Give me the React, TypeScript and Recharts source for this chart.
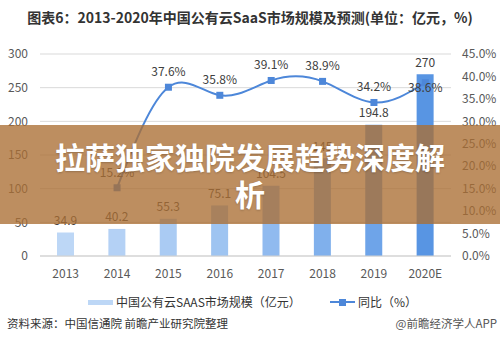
import React from 'react';
import { ComposedChart, Bar, Line, XAxis, YAxis, CartesianGrid, Cell, LabelList } from 'recharts';

const years = ['2013', '2014', '2015', '2016', '2017', '2018', '2019', '2020E'];
const marketSize = [34.9, 40.2, 55.3, 75.1, 104.5, 145, 194.8, 270];
const growth: (number | null)[] = [null, 15.2, 37.6, 35.8, 39.1, 38.9, 34.2, 38.6];
const barColors = ['#bdd7f6', '#b4d1f5', '#aacbf3', '#9ec4f1', '#90baef', '#80b0ec', '#6ea4e9', '#5895e3'];
const leftTicks = [0, 50, 100, 150, 200, 250, 300];
const rightTicks = [0, 5, 10, 15, 20, 25, 30, 35, 40, 45];

const title = '图表6：2013-2020年中国公有云SaaS市场规模及预测(单位：亿元，%)';
const barLegend = '中国公有云SAAS市场规模（亿元）';
const lineLegend = '同比（%）';
const source = '资料来源：中国信通院 前瞻产业研究院整理';
const brand = '@前瞻经济学人APP';
const banner = '拉萨独家独院发展趋势深度解析';

const data = years.map((y, i) => ({ year: y, size: marketSize[i], growth: growth[i] }));

const FONT = '"Noto Sans CJK SC", "Noto Sans", sans-serif';
const LINE_COLOR = '#4d87d9';

const SquareDot = (props: any) => {
  const { cx, cy, value, index } = props;
  if (cx == null || cy == null || value == null) return <g key={`d${index}`} />;
  return <rect key={`d${index}`} x={cx - 3.5} y={cy - 3.5} width={7} height={7} fill={LINE_COLOR} />;
};

const LineLabel = (props: any) => {
  const { x, y, value, index } = props;
  if (value == null || x == null || y == null) return <g />;
  const dy = index === 7 ? 4 : -16.5;
  return (
    <text x={x} y={y + dy} textAnchor="middle" dominantBaseline="central" fontSize={12} fill="#404040" fontFamily={FONT}>
      {Number(value).toFixed(1)}%
    </text>
  );
};

const BarLabel = (props: any) => {
  const { x, y, width, value } = props;
  return (
    <text x={x + width / 2} y={y - 13} textAnchor="middle" dominantBaseline="central" fontSize={12} fill="#404040" fontFamily={FONT}>
      {value}
    </text>
  );
};

export default function App() {
  return (
    <div style={{ position: 'absolute', left: 0, top: 0, width: 500, height: 350, background: '#fff', overflow: 'hidden', fontFamily: FONT }}>
      <div style={{ position: 'absolute', left: 0, top: 7, width: 500, textAlign: 'center', fontSize: 14, fontWeight: 700, color: '#333', lineHeight: '20px', whiteSpace: 'nowrap' }}>
        {title}
      </div>
      <div style={{ position: 'absolute', left: 0, top: 0 }}>
        <ComposedChart width={500} height={350} data={data} margin={{ top: 54, right: 0, bottom: 64, left: 0 }}>
          <CartesianGrid yAxisId="left" vertical={false} stroke="#d9d9d9" />
          <XAxis
            dataKey="year"
            height={30}
            tickLine={false}
            axisLine={{ stroke: '#d0d0d0' }}
            tickMargin={7}
            tick={{ fontSize: 12, fill: '#595959', fontFamily: FONT }}
          />
          <YAxis
            yAxisId="left"
            width={40}
            domain={[0, 300]}
            ticks={leftTicks}
            tickLine={false}
            axisLine={false}
            tickMargin={6}
            tick={{ fontSize: 12, fill: '#595959', fontFamily: FONT }}
          />
          <YAxis
            yAxisId="right"
            orientation="right"
            width={49}
            domain={[0, 45]}
            ticks={rightTicks}
            tickLine={false}
            axisLine={false}
            tickMargin={5}
            tickFormatter={(v: number) => v.toFixed(1) + '%'}
            tick={{ fontSize: 12, fill: '#595959', fontFamily: FONT }}
          />
          <Bar yAxisId="left" dataKey="size" barSize={17} isAnimationActive={false}>
            {data.map((d, i) => (
              <Cell key={d.year} fill={barColors[i]} />
            ))}
            <LabelList dataKey="size" content={BarLabel} />
          </Bar>
          <Line
            yAxisId="right"
            type="natural"
            dataKey="growth"
            stroke={LINE_COLOR}
            strokeWidth={2}
            dot={SquareDot}
            activeDot={false}
            connectNulls={false}
            isAnimationActive={false}
          >
            <LabelList dataKey="growth" content={LineLabel} />
          </Line>
        </ComposedChart>
      </div>
      {/* legend */}
      <div style={{ position: 'absolute', left: 88, top: 300, width: 25, height: 5, background: '#bdd7f6' }} />
      <div style={{ position: 'absolute', left: 116, top: 293, fontSize: 12, color: '#333', lineHeight: '18px', whiteSpace: 'nowrap' }}>{barLegend}</div>
      <div style={{ position: 'absolute', left: 330, top: 301, width: 25, height: 2, background: LINE_COLOR }} />
      <div style={{ position: 'absolute', left: 339, top: 298.5, width: 7, height: 7, background: LINE_COLOR }} />
      <div style={{ position: 'absolute', left: 358, top: 293, fontSize: 12, color: '#333', lineHeight: '18px', whiteSpace: 'nowrap' }}>{lineLegend}</div>
      {/* footer */}
      <div style={{ position: 'absolute', left: 7, top: 315, fontSize: 11.5, color: '#333', lineHeight: '16px', whiteSpace: 'nowrap' }}>{source}</div>
      <div style={{ position: 'absolute', right: 3, top: 315, fontSize: 11.5, color: '#555', lineHeight: '16px', whiteSpace: 'nowrap' }}>{brand}</div>
      {/* banner overlay */}
      <div style={{ position: 'absolute', left: 0, top: 125, width: 500, height: 99, background: 'rgba(171,110,51,0.78)', display: 'flex', alignItems: 'center', justifyContent: 'center' }}>
        <div style={{ width: 405, textAlign: 'center', color: '#fff', fontSize: 30, fontWeight: 700, lineHeight: '37px', textShadow: '0 1px 2px rgba(0,0,0,0.2)' }}>
          {banner}
        </div>
      </div>
    </div>
  );
}
